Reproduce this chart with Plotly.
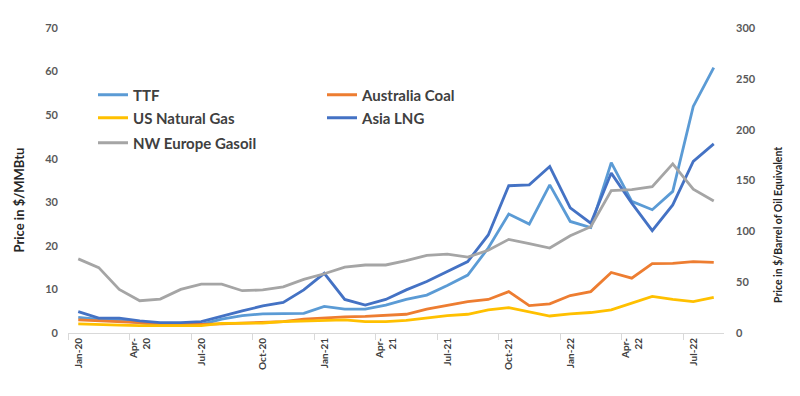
import plotly.graph_objects as go

months = ["Jan-20","Feb-20","Mar-20","Apr-20","May-20","Jun-20","Jul-20","Aug-20","Sep-20","Oct-20","Nov-20","Dec-20",
          "Jan-21","Feb-21","Mar-21","Apr-21","May-21","Jun-21","Jul-21","Aug-21","Sep-21","Oct-21","Nov-21","Dec-21",
          "Jan-22","Feb-22","Mar-22","Apr-22","May-22","Jun-22","Jul-22","Aug-22"]

tick_labels = ["Jan-20","Apr-<br>20","Jul-20","Oct-20","Jan-21","Apr-<br>21","Jul-21","Oct-21","Jan-22","Apr-<br>22","Jul-22"]

# $/MMBtu (left axis)
ttf = [3.6,3.1,2.9,2.4,1.8,1.9,2.0,3.2,4.0,4.4,4.4,4.5,6.1,5.5,5.5,6.4,7.7,8.7,10.9,13.3,19.5,27.3,25.0,34.0,
       25.6,24.2,39.1,30.2,28.3,32.5,52.0,60.9]
aus_coal = [3.0,2.8,2.7,2.4,2.1,2.0,2.0,2.1,2.3,2.5,2.6,3.2,3.5,3.7,3.8,4.0,4.3,5.5,6.4,7.2,7.7,9.5,6.3,6.7,
            8.6,9.5,13.9,12.6,15.9,16.0,16.4,16.2]
us_gas = [2.1,1.9,1.8,1.7,1.7,1.6,1.7,2.2,2.3,2.3,2.6,2.7,2.8,3.0,2.6,2.6,2.9,3.4,4.0,4.3,5.3,5.8,4.9,3.9,
          4.4,4.7,5.3,6.8,8.4,7.7,7.2,8.2]
asia_lng = [4.9,3.4,3.4,2.8,2.4,2.4,2.6,3.9,5.1,6.2,7.0,9.9,13.7,7.7,6.4,7.7,9.9,11.8,14.1,16.4,22.5,33.8,34.0,38.2,
            28.7,25.2,36.7,29.8,23.5,29.4,39.4,43.4]
# $/barrel of oil equivalent (right axis)
gasoil = [72.9,64.3,42.9,31.7,33.4,42.9,48.0,48.0,41.6,42.4,45.4,52.7,58.3,64.7,66.9,66.9,71.1,76.3,77.6,74.6,81.4,92.1,87.9,83.6,
          95.6,104.6,140.1,141.0,144.0,166.3,141.4,129.9]

x = list(range(len(months)))
tickvals = list(range(0, len(months), 3))
boundary_ticks = [v - 0.5 for v in tickvals]

FONT = "Lato"
# figure size leaves room for the page's default 8px body margin
W, H = 784, 380
L, R, T, B = 60, 68, 20, 55
PW, PH = W - L - R, H - T - B

def px_x(v):
    return (v - L) / PW

def px_y(v):
    return 1 - (v - T) / PH

fig = go.Figure()
series = [
    ("TTF", ttf, "#5B9BD5", "y", "legend"),
    ("Australia Coal", aus_coal, "#ED7D31", "y", "legend"),
    ("US Natural Gas", us_gas, "#FFC000", "y", "legend2"),
    ("Asia LNG", asia_lng, "#4472C4", "y", "legend2"),
    ("NW Europe Gasoil", gasoil, "#A5A5A5", "y2", "legend3"),
]
for name, vals, color, ax, lg in series:
    fig.add_trace(go.Scatter(x=x, y=vals, name=name, mode="lines", yaxis=ax, legend=lg,
                             line=dict(color=color, width=2.8), customdata=months,
                             hovertemplate="%{customdata}: %{y}<extra>" + name + "</extra>"))

legend_font = dict(size=15, color="#404040", family=FONT, weight="bold")
def legend_at(row_center_y):
    return dict(orientation="h", x=px_x(85), y=px_y(row_center_y), xanchor="left", yanchor="middle",
                entrywidth=184, font=legend_font, bgcolor="rgba(0,0,0,0)", traceorder="normal")

tick_font = dict(size=11, color="#595959", family=FONT, weight="bold")

fig.update_layout(
    width=W, height=H,
    margin=dict(l=L, r=R, t=T, b=B, autoexpand=False),
    paper_bgcolor="white", plot_bgcolor="white",
    font=dict(family=FONT, color="#595959"),
    showlegend=True,
    legend=legend_at(87),
    legend2=legend_at(110),
    legend3=legend_at(135),
    xaxis=dict(range=[-0.5, len(months) - 0.5], tickvals=tickvals, ticktext=tick_labels,
               tickangle=-90, ticks="", showgrid=False, zeroline=False,
               showline=True, linecolor="#D9D9D9", linewidth=1,
               tickfont=dict(size=10, color="#404040", family=FONT, weight="bold"),
               minor=dict(tickvals=boundary_ticks, ticks="outside", ticklen=6, tickcolor="#D9D9D9", showgrid=False)),
    yaxis=dict(range=[0, 70], dtick=10, showgrid=False, zeroline=False, showline=False,
               ticks="", ticklabelstandoff=9, tickfont=tick_font),
    yaxis2=dict(range=[0, 300], dtick=50, overlaying="y", side="right", showgrid=False,
                zeroline=False, showline=False, ticks="", ticklabelstandoff=11, tickfont=tick_font),
    annotations=[
        dict(text="Price in $/MMBtu", x=px_x(10.5), y=px_y(192), xref="paper", yref="paper", showarrow=False,
             xanchor="center", yanchor="middle", textangle=-90,
             font=dict(size=13, color="#262626", family=FONT, weight="bold")),
        dict(text="Price in $/Barrel of Oil Equivalent", x=px_x(770), y=px_y(217), xref="paper", yref="paper",
             showarrow=False, xanchor="center", yanchor="middle", textangle=-90,
             font=dict(size=10.5, color="#262626", family=FONT, weight="bold")),
    ],
)

fig.write_html("out.html")
